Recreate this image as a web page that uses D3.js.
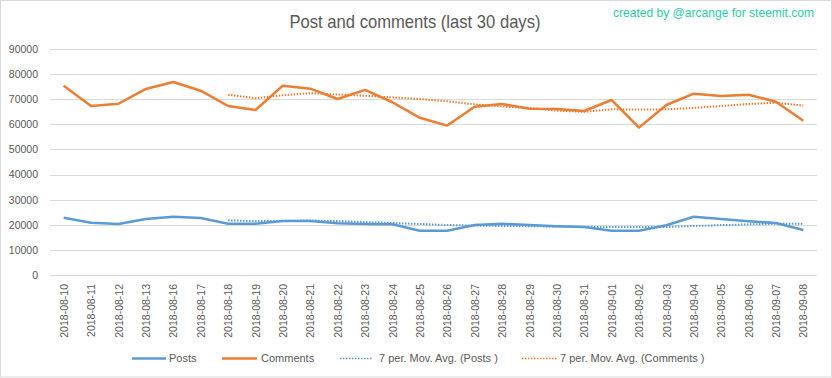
<!DOCTYPE html>
<html>
<head>
<meta charset="utf-8">
<script src="https://cdn.jsdelivr.net/npm/d3@7"></script>
<style>
  body { margin: 0; background: #fff; }
  text { font-family: "Liberation Sans", Arial, sans-serif; }
</style>
</head>
<body>
<div id="chart"></div>
<script>
var w = 832, h = 378;

// Categories (dates)
var dates = ["2018-08-10", "2018-08-11", "2018-08-12", "2018-08-13", "2018-08-16", "2018-08-17",
  "2018-08-18", "2018-08-19", "2018-08-20", "2018-08-21", "2018-08-22", "2018-08-23", "2018-08-24",
  "2018-08-25", "2018-08-26", "2018-08-27", "2018-08-28", "2018-08-29", "2018-08-30", "2018-08-31",
  "2018-09-01", "2018-09-02", "2018-09-03", "2018-09-04", "2018-09-05", "2018-09-06", "2018-09-07",
  "2018-09-08"];

// Series values
var posts = [22800, 20800, 20300, 22300, 23200, 22700, 20400, 20400, 21500, 21500, 20600, 20300, 20200,
  17650, 17600, 19900, 20400, 19900, 19400, 19100, 17650, 17600, 19800, 23200, 22300, 21400, 20700, 17900];
var comments = [75400, 67300, 68200, 74100, 76850, 73400, 67300, 65700, 75400, 74200, 70100, 73700, 68800,
  62600, 59500, 67000, 68100, 66200, 66100, 65300, 69700, 58700, 67700, 72200, 71300, 71800, 69000, 61400];

// 7 period moving averages (trendlines)
var postsAvg = [null, null, null, null, null, null, 21786, 21443, 21543, 21714, 21471, 21057, 20700,
  20307, 19907, 19679, 19521, 19421, 19293, 19136, 19136, 19136, 19121, 19521, 19864, 20150, 20379, 20414];
var commentsAvg = [null, null, null, null, null, null, 71793, 70407, 71564, 72421, 71850, 71400, 70743,
  70071, 69186, 67986, 67114, 66557, 65471, 64971, 65986, 65871, 65971, 66557, 67286, 68100, 68629, 67443];

// Tick values
var yTicks = [0, 10000, 20000, 30000, 40000, 50000, 60000, 70000, 80000, 90000];

var blue = "#5b9bd5", orange = "#ed7d31", grey = "#595959";

var svg = d3.select("#chart")
  .append("svg")
  .attr("width", w)
  .attr("height", h);

// Outer frame
svg.append("rect")
  .attr("x", 0.5).attr("y", 0.5)
  .attr("width", w - 1).attr("height", h - 1.5)
  .attr("fill", "#fff")
  .attr("stroke", "#d9d9d9");

var xScale = d3.scalePoint()
  .domain(dates)
  .range([50, 817])
  .padding(0.5);

var yScale = d3.scaleLinear()
  .domain([0, 90000])
  .range([275, 49]);

// Gridlines
svg.append("g")
  .selectAll("line")
  .data(yTicks)
  .enter()
  .append("line")
  .attr("x1", 50).attr("x2", 817)
  .attr("y1", function(d) { return Math.round(yScale(d)) + 0.5; })
  .attr("y2", function(d) { return Math.round(yScale(d)) + 0.5; })
  .attr("stroke", "#d9d9d9")
  .attr("stroke-width", 1);

// Y axis
var yAxis = d3.axisLeft()
  .scale(yScale)
  .tickValues(yTicks)
  .tickSize(0)
  .tickPadding(0)
  .tickFormat(d3.format("d"));

svg.append("g")
  .attr("class", "y_axis")
  .attr("transform", "translate(38, 0)")
  .call(yAxis)
  .call(function(g) { g.select(".domain").remove(); })
  .selectAll("text")
  .attr("fill", grey)
  .attr("font-size", 10.5)
  .attr("font-family", "Liberation Sans, Arial, sans-serif");

// X axis
var xAxis = d3.axisBottom()
  .scale(xScale)
  .tickSize(0)
  .tickPadding(0);

svg.append("g")
  .attr("class", "x_axis")
  .attr("transform", "translate(0, 275)")
  .call(xAxis)
  .call(function(g) { g.select(".domain").remove(); })
  .selectAll("text")
  .attr("fill", grey)
  .attr("font-size", 10.5)
  .attr("font-family", "Liberation Sans, Arial, sans-serif")
  .attr("transform", "rotate(-90)")
  .attr("x", -9)
  .attr("y", 0)
  .attr("dy", "0.35em")
  .attr("text-anchor", "end");

// Lines
var line = d3.line()
  .defined(function(d) { return d != null; })
  .x(function(d, i) { return xScale(dates[i]); })
  .y(function(d) { return yScale(d); });

var series = [
  { values: postsAvg, color: blue, dotted: true },
  { values: commentsAvg, color: orange, dotted: true },
  { values: posts, color: blue, dotted: false },
  { values: comments, color: orange, dotted: false }
];

svg.append("g")
  .selectAll("path")
  .data(series)
  .enter()
  .append("path")
  .attr("d", function(d) { return line(d.values); })
  .attr("fill", "none")
  .attr("stroke", function(d) { return d.color; })
  .attr("stroke-width", function(d) { return d.dotted ? 2 : 2.5; })
  .attr("stroke-dasharray", function(d) { return d.dotted ? "1.5,1.5" : null; })
  .attr("stroke-linejoin", "round");

// Title
svg.append("text")
  .attr("x", 415)
  .attr("y", 28)
  .attr("text-anchor", "middle")
  .attr("font-family", "Lato, sans-serif")
  .attr("font-size", 18.5)
  .attr("fill", grey)
  .attr("textLength", 251)
  .attr("lengthAdjust", "spacingAndGlyphs")
  .text("Post and comments (last 30 days)");

// Credit
svg.append("text")
  .attr("x", 613)
  .attr("y", 17)
  .attr("font-family", "Lato, sans-serif")
  .attr("font-size", 13)
  .attr("fill", "#2ccda4")
  .attr("textLength", 201)
  .attr("lengthAdjust", "spacingAndGlyphs")
  .text("created by @arcange for steemit.com");

// Legend
var legendItems = [
  { label: "Posts", color: blue, dotted: false, x1: 132, x2: 166, tx: 169 },
  { label: "Comments", color: orange, dotted: false, x1: 222, x2: 257, tx: 261 },
  { label: "7 per. Mov. Avg. (Posts )", color: blue, dotted: true, x1: 340, x2: 373, tx: 379 },
  { label: "7 per. Mov. Avg. (Comments )", color: orange, dotted: true, x1: 522, x2: 557, tx: 560 }
];

var legend = svg.append("g")
  .attr("class", "legend")
  .selectAll("g")
  .data(legendItems)
  .enter()
  .append("g");

legend.append("line")
  .attr("x1", function(d) { return d.x1; })
  .attr("x2", function(d) { return d.x2; })
  .attr("y1", 358.5).attr("y2", 358.5)
  .attr("stroke", function(d) { return d.color; })
  .attr("stroke-width", function(d) { return d.dotted ? 1.5 : 2.5; })
  .attr("stroke-dasharray", function(d) { return d.dotted ? "1.5,1.5" : null; });

legend.append("text")
  .attr("x", function(d) { return d.tx; })
  .attr("y", 358.5)
  .attr("dy", "0.35em")
  .attr("font-size", 11)
  .attr("fill", grey)
  .text(function(d) { return d.label; });
</script>
</body>
</html>
